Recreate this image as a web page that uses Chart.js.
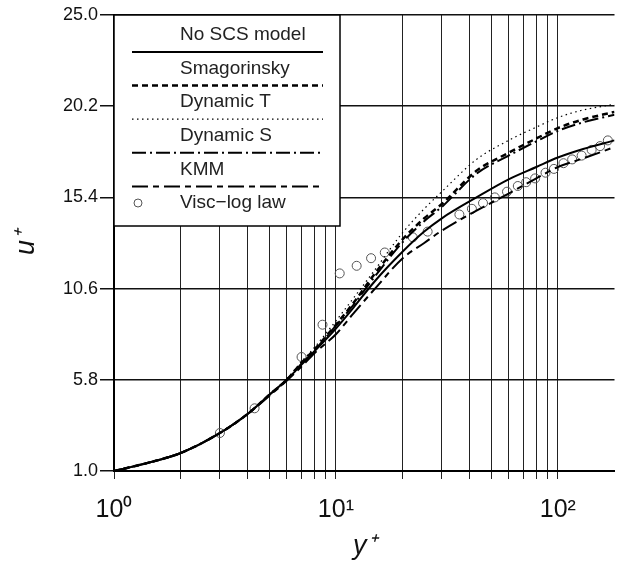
<!DOCTYPE html>
<html>
<head>
<meta charset="utf-8">
<script src="https://cdn.jsdelivr.net/npm/chart.js@4/dist/chart.umd.min.js"></script>
<style>
  body { margin: 0; background: #fff; }
</style>
</head>
<body>
<canvas id="chart" width="620" height="563"></canvas>
<script>
// y+ positions shared by the LES curves
const yPlus = [1, 1.5, 2, 3, 4, 5, 6, 7, 8, 10, 12, 15, 20, 25, 30, 43, 60, 80, 100, 130, 180];

const noSgs = [1.0, 1.5, 1.95, 3.0, 4.0, 5.0, 5.8, 6.6, 7.3, 8.5, 9.6, 11.0, 12.55, 13.6, 14.3, 15.4, 16.35, 17.0, 17.5, 17.95, 18.4];
const smagorinsky = [1.0, 1.5, 1.95, 3.0, 4.0, 5.0, 5.8, 6.7, 7.4, 8.7, 9.85, 11.4, 13.2, 14.3, 15.05, 16.8, 17.75, 18.5, 19.05, 19.5, 19.9];
const dynamicT = [1.0, 1.5, 1.95, 3.0, 4.0, 5.0, 5.85, 6.75, 7.5, 8.9, 10.1, 11.6, 13.55, 14.8, 15.7, 17.4, 18.4, 19.1, 19.6, 20.0, 20.3];
const dynamicS = [1.0, 1.5, 1.95, 3.0, 4.0, 5.0, 5.8, 6.65, 7.35, 8.65, 9.75, 11.25, 13.05, 14.15, 14.9, 16.65, 17.6, 18.35, 18.9, 19.35, 19.75];
const kmm = [1.0, 1.5, 1.95, 3.0, 4.0, 4.95, 5.75, 6.5, 7.2, 8.2, 9.3, 10.6, 12.2, 13.0, 13.65, 14.7, 15.6, 16.4, 17.0, 17.45, 18.05];

// visc-log law reference points
const lawY = [3, 4.3, 7, 8.7, 10.4, 12.4, 14.4, 16.6, 22.2, 25.9, 36, 41, 46, 52, 59, 66, 72, 79, 88, 96, 106, 116, 128, 142, 155, 168];
const lawU = [3.0, 4.3, 7.0, 8.7, 11.4, 11.8, 12.2, 12.5, 13.3, 13.6, 14.5, 14.8, 15.1, 15.4, 15.7, 16.0, 16.2, 16.4, 16.7, 16.9, 17.2, 17.4, 17.6, 17.9, 18.1, 18.4];

const xTicks = [1, 2, 3, 4, 5, 6, 7, 8, 9, 10, 20, 30, 40, 50, 60, 70, 80, 90, 100];
const xLabels = { 1: '10\u2070', 10: '10\u00b9', 100: '10\u00b2' };
const yTicks = [1.0, 5.8, 10.6, 15.4, 20.2, 25.0];

function pts(xs, ys) {
    return xs.map((x, i) => ({ x: x, y: ys[i] }));
}

Chart.defaults.font.family = "'Liberation Sans', Arial, sans-serif";
Chart.defaults.color = '#111';

// legend drawn as a box with the label above each line sample
const boxLegend = {
    id: 'boxLegend',
    afterDraw(chart) {
        const ctx = chart.ctx;
        const left = chart.chartArea.left;
        const top = chart.chartArea.top;
        ctx.save();
        ctx.fillStyle = '#fff';
        ctx.fillRect(left, top, 340 - left, 226 - top);
        ctx.strokeStyle = '#000';
        ctx.lineWidth = 1.5;
        ctx.strokeRect(left, top, 340 - left, 226 - top);

        ctx.font = "19px 'Liberation Sans', Arial, sans-serif";
        ctx.textBaseline = 'middle';
        ctx.textAlign = 'left';
        chart.data.datasets.forEach((ds, i) => {
            const cy = 35 + 33.6 * i;
            ctx.fillStyle = '#222';
            ctx.fillText(ds.label, 180, cy);
            if (ds.showLine === false) {
                ctx.beginPath();
                ctx.arc(138, cy, 4, 0, Math.PI * 2);
                ctx.strokeStyle = ds.borderColor;
                ctx.lineWidth = 1;
                ctx.setLineDash([]);
                ctx.stroke();
            } else {
                ctx.beginPath();
                ctx.moveTo(132, cy + 17);
                ctx.lineTo(323, cy + 17);
                ctx.strokeStyle = ds.borderColor;
                ctx.lineWidth = ds.borderWidth;
                ctx.setLineDash(ds.borderDash || []);
                ctx.stroke();
            }
        });
        ctx.restore();
    }
};

const ctx = document.getElementById('chart').getContext('2d');
new Chart(ctx, {
    type: 'line',
    data: {
        datasets: [
            {
                label: 'No SCS model',
                data: pts(yPlus, noSgs),
                borderColor: '#000',
                borderWidth: 2,
                borderDash: [],
                pointRadius: 0,
                cubicInterpolationMode: 'monotone'
            },
            {
                label: 'Smagorinsky',
                data: pts(yPlus, smagorinsky),
                borderColor: '#000',
                borderWidth: 2.5,
                borderDash: [6, 4],
                pointRadius: 0,
                cubicInterpolationMode: 'monotone'
            },
            {
                label: 'Dynamic T',
                data: pts(yPlus, dynamicT),
                borderColor: '#000',
                borderWidth: 1.2,
                borderDash: [1.5, 3.5],
                pointRadius: 0,
                cubicInterpolationMode: 'monotone'
            },
            {
                label: 'Dynamic S',
                data: pts(yPlus, dynamicS),
                borderColor: '#000',
                borderWidth: 2,
                borderDash: [14, 4, 2, 4],
                pointRadius: 0,
                cubicInterpolationMode: 'monotone'
            },
            {
                label: 'KMM',
                data: pts(yPlus, kmm),
                borderColor: '#000',
                borderWidth: 2,
                borderDash: [16, 5, 6, 5],
                pointRadius: 0,
                cubicInterpolationMode: 'monotone'
            },
            {
                label: 'Visc\u2212log law',
                data: pts(lawY, lawU),
                showLine: false,
                borderColor: '#555',
                backgroundColor: 'rgba(0,0,0,0)',
                borderWidth: 1,
                pointRadius: 4.5,
                pointStyle: 'circle'
            }
        ]
    },
    options: {
        responsive: false,
        animation: false,
        layout: { padding: { top: 15, right: 0, left: 0, bottom: 0 } },
        plugins: {
            legend: { display: false },
            tooltip: { enabled: false }
        },
        scales: {
            x: {
                type: 'logarithmic',
                min: 1,
                max: 180,
                afterBuildTicks: scale => {
                    scale.ticks = xTicks.map(v => ({ value: v }));
                },
                afterFit: scale => { scale.height = 92; },
                ticks: {
                    autoSkip: false,
                    maxRotation: 0,
                    padding: 16,
                    font: { size: 25 },
                    color: '#111',
                    callback: v => xLabels[v] || ''
                },
                grid: { color: '#222', lineWidth: 1, tickLength: 8 },
                border: { color: '#000', width: 2 },
                title: {
                    display: true,
                    text: 'y\u207a',
                    font: { size: 27, style: 'italic' },
                    color: '#111',
                    padding: { top: 6, bottom: 0 }
                }
            },
            y: {
                min: 1,
                max: 25,
                afterBuildTicks: scale => {
                    scale.ticks = yTicks.map(v => ({ value: v }));
                },
                afterFit: scale => { scale.width = 114; },
                ticks: {
                    padding: 2,
                    font: { size: 18 },
                    color: '#111',
                    callback: v => v.toFixed(1)
                },
                grid: { color: '#111', lineWidth: 1.5, tickLength: 14 },
                border: { color: '#000', width: 2 },
                title: {
                    display: true,
                    text: 'u\u207a',
                    font: { size: 27, style: 'italic' },
                    color: '#111',
                    padding: { top: 10, bottom: 0 }
                }
            }
        }
    },
    plugins: [boxLegend]
});
</script>
</body>
</html>
